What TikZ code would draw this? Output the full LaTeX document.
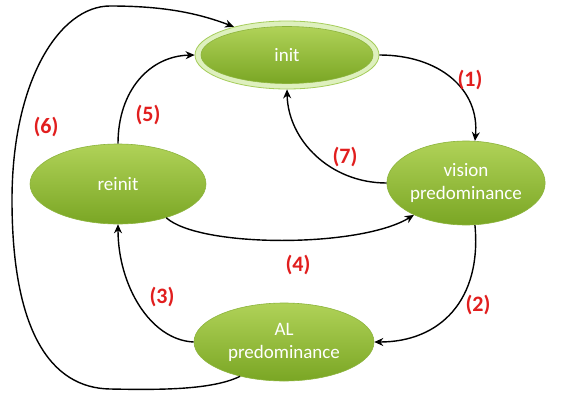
\documentclass[tikz,border=0pt]{standalone}
\usepackage{fontspec}
\setmainfont{Carlito}
\usetikzlibrary{shapes.geometric,arrows.meta}
\definecolor{gtop}{RGB}{176,210,88}
\definecolor{gbot}{RGB}{122,166,36}
\definecolor{gedge}{RGB}{140,180,60}
\definecolor{rim}{RGB}{222,240,190}
\definecolor{rimedge}{RGB}{165,205,90}
\definecolor{lab}{RGB}{225,30,30}
\tikzset{
  state/.style={ellipse, top color=gtop, bottom color=gbot, draw=gedge, line width=0.6pt,
    text=white, font=\fontsize{19}{23}\selectfont, align=center, inner sep=0pt},
  conn/.style={line width=1.4pt, -{Stealth[length=9pt,width=8pt]}},
  lbl/.style={text=lab, font=\bfseries\fontsize{22}{26}\selectfont}
}
\begin{document}
\begin{tikzpicture}[x=1pt,y=-1pt]
\useasboundingbox (0,0) rectangle (566,394);
\fill[white] (0,0) rectangle (566,394);
% nodes
\node[ellipse, fill=rim, draw=rimedge, line width=0.8pt, minimum width=184pt, minimum height=68pt] (init) at (287,55) {};
\node[state, minimum width=172pt, minimum height=57pt] (initcore) at (287,55) {init};
\node[state, minimum width=176pt, minimum height=80pt] (reinit) at (118,184) {reinit};
\node[state, minimum width=150pt, minimum height=84pt] (vision) at (466,183) {vision\\predominance};
\node[state, minimum width=180pt, minimum height=78pt] (al) at (284,342) {AL\\predominance};
% connectors
\draw[conn] (init.east) .. controls (440,55) and (480,90) .. (vision.78);
\draw[conn] (vision.-78) .. controls (482,300) and (440,342) .. (al.east);
\draw[conn] (al.west) .. controls (150,340) and (118,285) .. (reinit.south);
\draw[conn] (reinit.-35) .. controls (200,248) and (360,248) .. (vision);
\draw[conn] (reinit.north) .. controls (118,90) and (150,56) .. (init.west);
\draw[conn] (al.218) .. controls (212,390) and (160,390) .. (110,389)
  .. controls (50,388) and (12,330) .. (12,200)
  .. controls (12,80) and (60,6) .. (110,6)
  .. controls (160,6) and (195,12) .. (init.152);
\draw[conn] (vision.west) .. controls (330,183) and (288,140) .. (init.south);
% labels
\node[lbl] (l1) at (470,80) {(1)};
\node[lbl] (l2) at (478,305) {(2)};
\node[lbl] (l3) at (162,297) {(3)};
\node[lbl] (l4) at (298,265) {(4)};
\node[lbl] (l5) at (148,115) {(5)};
\node[lbl] (l6) at (46,127) {(6)};
\node[lbl] (l7) at (345,157) {(7)};
\end{tikzpicture}
\end{document}
